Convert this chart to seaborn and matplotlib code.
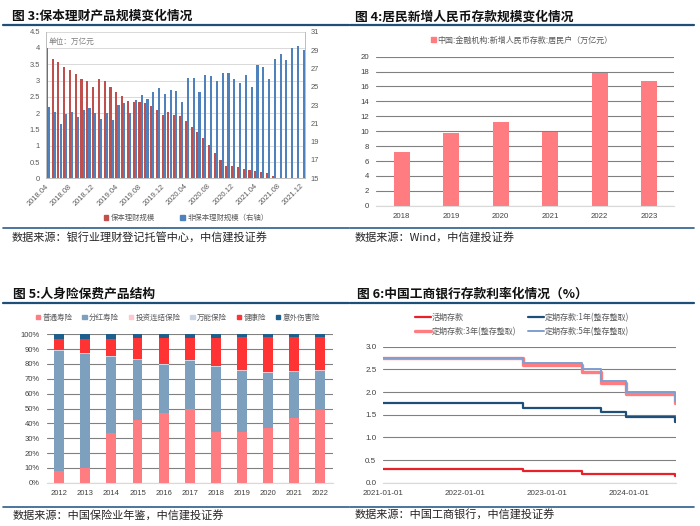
import numpy as np
import pandas as pd
import matplotlib.pyplot as plt
from matplotlib.lines import Line2D
from matplotlib.patches import Patch
from matplotlib.ticker import PercentFormatter
import matplotlib.dates as mdates
import seaborn as sns

sns.set_style('white')
plt.rcParams['font.family'] = ['Liberation Sans', 'Noto Sans CJK SC', 'DejaVu Sans']
plt.rcParams['axes.unicode_minus'] = False

W, H = 700, 526
CJK = ['Noto Sans CJK SC', 'DejaVu Sans']
NAVY = '#1F4E79'

# ---------- data: 图3 保本理财 ----------
months = pd.period_range('2018-04', '2021-12', freq='M').strftime('%Y.%m').tolist()
guaranteed = [4.00, 3.66, 3.56, 3.41, 3.31, 3.19, 3.06, 2.99, 2.81, 3.04,
              2.98, 2.81, 2.64, 2.52, 2.36, 2.35, 2.35, 2.31, 2.21, 2.10,
              1.94, 2.02, 1.94, 1.92, 1.76, 1.58, 1.43, 1.23, 1.02, 0.77,
              0.56, 0.38, 0.37, 0.35, 0.28, 0.24, 0.21, 0.18, 0.16, 0.07,
              0, 0, 0, 0, 0]
non_guaranteed = [22.78, 22.27, 20.89, 21.98, 22.27, 21.73, 22.42, 22.64, 22.09, 21.47,
                  22.09, 21.36, 23.00, 23.25, 22.16, 23.60, 24.10, 23.63, 24.40, 24.82,
                  24.17, 24.67, 24.57, 23.37, 25.92, 25.95, 24.46, 26.31, 26.17, 25.59,
                  26.46, 26.46, 25.80, 25.40, 26.31, 25.00, 27.37, 27.18, 25.80, 28.06,
                  28.54, 27.90, 29.26, 29.48, 28.97]

# ---------- data: 图4 居民新增存款 ----------
years4 = ['2018', '2019', '2020', '2021', '2022', '2023']
new_deposits = [7.2, 9.7, 11.3, 9.9, 17.8, 16.7]

# ---------- data: 图5 人身险保费结构 (%) ----------
years5 = [str(y) for y in range(2012, 2023)]
ordinary_life = [8.0, 9.8, 33.3, 42.2, 47.2, 49.4, 34.4, 34.2, 36.6, 43.4, 49.0]
participating = [80.7, 76.9, 51.2, 40.5, 32.1, 32.4, 43.4, 41.3, 37.5, 30.9, 26.5]
unit_linked = [0.2, 0.2, 0.2, 0.2, 0.2, 0.2, 0.2, 0.2, 0.2, 0.2, 0.2]
universal = [0.5, 0.5, 0.5, 0.5, 0.5, 0.5, 0.5, 0.5, 0.5, 0.5, 0.5]
health = [7.6, 9.4, 11.4, 13.9, 17.7, 15.2, 18.8, 21.8, 23.2, 23.0, 22.3]
accident = [3.0, 3.2, 3.4, 2.7, 2.3, 2.3, 2.7, 2.0, 2.0, 2.0, 1.5]

# ---------- data: 图6 工行存款利率 ----------
rate_dates = ['2021-01-01', '2022-09-15', '2023-06-08', '2023-09-01',
              '2023-12-22', '2024-07-25', '2024-07-30']
demand = [0.30, 0.25, 0.20, 0.20, 0.20, 0.15, 0.15]
one_year = [1.75, 1.65, 1.65, 1.55, 1.45, 1.35, 1.35]
three_year = [2.75, 2.60, 2.45, 2.20, 1.95, 1.75, 1.75]
five_year = [2.75, 2.65, 2.50, 2.25, 2.00, 1.80, 1.80]


def axes_px(fig, x0, y0, x1, y1):
    return fig.add_axes([x0 / W, 1 - y1 / H, (x1 - x0) / W, (y1 - y0) / H])


def hline_px(fig, x0, x1, y, lw, color=NAVY):
    fig.add_artist(Line2D([x0 / W, x1 / W], [1 - y / H] * 2, color=color, lw=lw,
                          transform=fig.transFigure))


def header(fig, x, y, title, x0, x1, y_line):
    fig.text(x / W, 1 - y / H, title, fontsize=9.2, fontweight='bold',
             va='center', ha='left', family=CJK, color='#111111')
    hline_px(fig, x0, x1, y_line, 1.6)


def source(fig, x, y, text, x0, x1, y_line):
    hline_px(fig, x0, x1, y_line, 1.2, color='#2E5C8A')
    fig.text(x / W, 1 - y / H, text, fontsize=8, style='italic',
             va='center', ha='left', family=CJK, color='#262626')


fig = plt.figure(figsize=(7, 5.26), dpi=100)

# ---------- 1. 图3 ----------
header(fig, 12, 16, '图 3:保本理财产品规模变化情况', 3, 349, 24.5)
ax3 = axes_px(fig, 45.5, 31.7, 305, 178.3)
x = np.arange(len(months))
sns.barplot(x=x - 0.19, y=guaranteed, native_scale=True, width=0.37, linewidth=0,
            color='#C0504D', saturation=1, errorbar=None, ax=ax3)
ax3r = ax3.twinx()
sns.barplot(x=x + 0.19, y=non_guaranteed, native_scale=True, width=0.37, linewidth=0,
            color='#4F81BD', saturation=1, errorbar=None, ax=ax3r)
ax3.set_ylim(0, 4.5)
ax3.set_yticks(np.arange(0, 4.51, 0.5))
ax3.set_yticklabels(['0', '0.5', '1', '1.5', '2', '2.5', '3', '3.5', '4', '4.5'])
ax3r.set_ylim(15, 31)
ax3r.set_yticks(range(15, 32, 2))
ax3.set_xlim(-0.42, 44.4)
ax3.set_xticks(x[::4])
ax3.set_xticklabels(months[::4], rotation=45, ha='right', rotation_mode='anchor', va='center')
ax3.grid(axis='y', color='#D9D9D9', lw=0.7)
ax3.set_axisbelow(True)
for a in (ax3, ax3r):
    a.tick_params(labelsize=5.4, colors='#595959', length=0, pad=4)
    a.set_xlabel('')
    a.set_ylabel('')
    for s in a.spines.values():
        s.set_color('#BFBFBF')
        s.set_linewidth(0.7)
    a.spines['top'].set_visible(False)
ax3.tick_params(axis='x', pad=5)
fig.text(49 / W, 1 - 42 / H, '单位：万亿元', fontsize=5.5, color='#7F7F7F',
         va='center', family=CJK)
fig.legend(handles=[Patch(color='#C0504D', label='保本理财规模'),
                    Patch(color='#4F81BD', label='非保本理财规模（右轴）')],
           loc='center', bbox_to_anchor=(186 / W, 1 - 218 / H), ncol=2, frameon=False,
           handlelength=0.6, handleheight=0.6, handletextpad=0.3,
           columnspacing=3.5, labelcolor='#595959', prop={'family': CJK, 'size': 5.3})
source(fig, 12, 238, '数据来源：银行业理财登记托管中心，中信建投证券', 3, 349, 228.3)

# ---------- 2. 图4 ----------
header(fig, 355, 16.8, '图 4:居民新增人民币存款规模变化情况', 350, 694, 24.5)
ax4 = axes_px(fig, 376, 56.7, 674, 205.7)
sns.barplot(x=years4, y=new_deposits, color='#FF7C80', width=0.32, linewidth=0,
            saturation=1, errorbar=None, ax=ax4)
ax4.set_ylim(0, 20)
ax4.set_yticks(range(0, 21, 2))
ax4.set_xlim(-0.52, 5.5)
ax4.grid(axis='y', color='#808080', lw=0.8)
ax4.set_axisbelow(True)
ax4.tick_params(labelsize=5.6, colors='#404040', length=0, pad=5)
for s in ['left', 'top', 'right']:
    ax4.spines[s].set_visible(False)
ax4.spines['bottom'].set_color('#D9D9D9')
ax4.set_xlabel('')
fig.legend(handles=[Patch(color='#FF7C80', label='中国:金融机构:新增人民币存款:居民户（万亿元）')],
           loc='center', bbox_to_anchor=(522 / W, 1 - 40 / H), frameon=False,
           handlelength=0.6, handleheight=0.6, handletextpad=0.2,
           labelcolor='#595959', prop={'family': CJK, 'size': 5.8})
source(fig, 355, 238.3, '数据来源：Wind，中信建投证券', 350, 694, 228.3)

# ---------- 3. 图5 ----------
header(fig, 12.7, 294, '图 5:人身险保费产品结构', 3, 349, 302.7)
ax5 = axes_px(fig, 46.7, 334.3, 333.3, 482.7)
mix = pd.DataFrame({'普通寿险': ordinary_life, '分红寿险': participating,
                    '投资连结保险': unit_linked, '万能保险': universal,
                    '健康险': health, '意外伤害险': accident}, index=years5)
mix_colors = {'普通寿险': '#FF7C80', '分红寿险': '#7DA0BF', '投资连结保险': '#FFC7CE',
              '万能保险': '#C9D5E2', '健康险': '#FF3333', '意外伤害险': '#1F5F8B'}
stacked = mix.cumsum(axis=1)
for col in reversed(mix.columns):
    sns.barplot(x=years5, y=stacked[col].values, color=mix_colors[col], width=0.38,
                linewidth=0, saturation=1, errorbar=None, ax=ax5)
ax5.set_ylim(0, 100)
ax5.set_yticks(range(0, 101, 10))
ax5.yaxis.set_major_formatter(PercentFormatter(decimals=0))
ax5.set_xlim(-0.48, 10.5)
ax5.grid(axis='y', color='#808080', lw=0.8)
ax5.set_axisbelow(True)
ax5.tick_params(labelsize=5.5, colors='#404040', length=0, pad=5)
for s in ['left', 'top', 'right']:
    ax5.spines[s].set_visible(False)
ax5.spines['bottom'].set_color('#D9D9D9')
ax5.set_xlabel('')
fig.legend(handles=[Patch(color=mix_colors[c], label=c) for c in mix.columns],
           loc='center', bbox_to_anchor=(178 / W, 1 - 317.7 / H), ncol=6, frameon=False,
           handlelength=0.6, handleheight=0.6, handletextpad=0.3, columnspacing=1.3,
           labelcolor='#595959', prop={'family': CJK, 'size': 5.4})
source(fig, 12.7, 516, '数据来源：中国保险业年鉴，中信建投证券', 3, 349, 506.7)

# ---------- 4. 图6 ----------
header(fig, 357, 294, '图 6:中国工商银行存款利率化情况（%）', 350, 694, 302.7)
ax6 = axes_px(fig, 383.3, 346.7, 676, 482.7)
dates = pd.to_datetime(rate_dates)
series6 = [('活期存款', demand, '#E8202A', 1.6),
           ('定期存款:1年(整存整取)', one_year, '#1F4E79', 1.6),
           ('定期存款:3年(整存整取)', three_year, '#FF7C80', 2.4),
           ('定期存款:5年(整存整取)', five_year, '#7F9FCF', 1.4)]
for label, vals, color, lw in series6:
    sns.lineplot(x=dates, y=vals, drawstyle='steps-post', color=color, lw=lw, ax=ax6)
ax6.set_xlabel('')
ax6.set_ylabel('')
ax6.set_ylim(0, 3.0)
ax6.set_yticks(np.arange(0, 3.01, 0.5))
ax6.yaxis.set_major_formatter(plt.FormatStrFormatter('%.1f'))
ax6.set_xlim(pd.Timestamp('2021-01-01'), pd.Timestamp('2024-07-31'))
ax6.set_xticks(pd.to_datetime(['2021-01-01', '2022-01-01', '2023-01-01', '2024-01-01']))
ax6.xaxis.set_major_formatter(mdates.DateFormatter('%Y-%m-%d'))
ax6.grid(axis='y', color='#808080', lw=0.8)
ax6.set_axisbelow(True)
ax6.tick_params(labelsize=5.8, colors='#404040', length=0, pad=5)
for s in ['left', 'top', 'right']:
    ax6.spines[s].set_visible(False)
ax6.spines['bottom'].set_color('#D9D9D9')
order = [0, 2, 1, 3]
fig.legend(handles=[Line2D([], [], color=series6[i][2], lw=series6[i][3], label=series6[i][0])
                    for i in order],
           loc='center', bbox_to_anchor=(522 / W, 1 - 324.5 / H), ncol=2, frameon=False,
           handlelength=2.0, handletextpad=0.1, columnspacing=1.5, labelspacing=0.6,
           labelcolor='#595959', prop={'family': CJK, 'size': 5.8})
source(fig, 355, 515, '数据来源：中国工商银行，中信建投证券', 350, 694, 507.3)

fig.savefig('out.png', dpi=100)
plt.close(fig)
